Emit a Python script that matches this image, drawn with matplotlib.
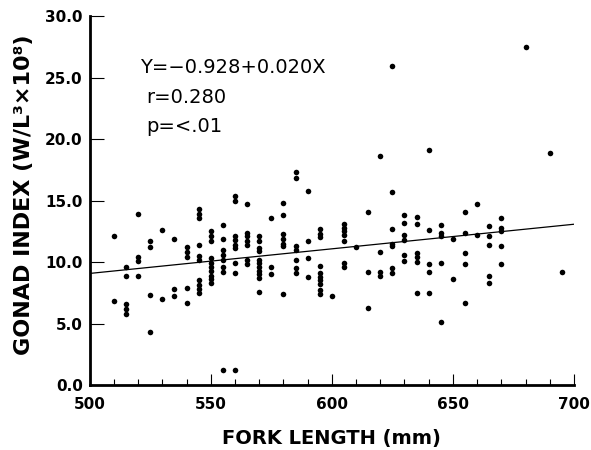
import matplotlib
matplotlib.use('Agg')
import matplotlib.pyplot as plt
import numpy as np

# fork length (mm) and gonad index
fork_length = (
    [510] * 2 + [515] * 5 + [520] * 4 + [525] * 4 + [530] * 2 + [535] * 3
    + [540] * 5 + [545] * 10 + [550] * 10 + [555] * 8 + [560] * 9
    + [565] * 7 + [570] * 11 + [575] * 3 + [580] * 7 + [585] * 7
    + [590] * 4 + [595] * 10 + [600] * 1 + [605] * 7 + [610] * 1
    + [615] * 3 + [620] * 4 + [625] * 7 + [630] * 6 + [635] * 6
    + [640] * 5 + [645] * 5 + [650] * 2 + [655] * 5 + [660] * 2
    + [665] * 5 + [670] * 5 + [680] * 1 + [690] * 1 + [695] * 1
)
gonad_index = [
    12.1, 6.8,                                   # 510
    9.6, 8.9, 6.6, 6.2, 5.8,                     # 515
    13.9, 10.4, 10.1, 8.9,                       # 520
    11.7, 11.2, 7.3, 4.3,                        # 525
    12.6, 7.0,                                   # 530
    11.9, 7.8, 7.2,                              # 535
    11.2, 10.8, 10.4, 7.9, 6.7,                  # 540
    14.3, 13.9, 13.6, 11.4, 10.5, 10.2, 8.5, 8.1, 7.8, 7.5,   # 545
    12.5, 12.1, 11.7, 10.3, 9.9, 9.6, 9.3, 8.9, 8.6, 8.3,     # 550
    13.0, 11.9, 11.0, 10.6, 10.2, 9.6, 9.2, 1.2,              # 555
    15.4, 15.0, 12.1, 11.8, 11.4, 11.1, 9.9, 9.1, 1.2,        # 560
    14.7, 12.4, 12.1, 11.7, 11.4, 10.2, 9.8,                  # 565
    12.1, 11.7, 11.1, 10.9, 10.2, 9.9, 9.6, 9.3, 9.0, 8.7, 7.6,  # 570
    13.6, 9.6, 9.0,                              # 575
    14.8, 13.8, 12.3, 11.9, 11.5, 11.3, 7.4,     # 580
    17.3, 16.8, 11.3, 11.0, 10.2, 9.5, 9.1,      # 585
    15.8, 11.7, 10.3, 8.8,                       # 590
    12.7, 12.3, 12.0, 9.7, 9.1, 8.8, 8.5, 8.2, 7.7, 7.4,      # 595
    7.2,                                         # 600
    13.1, 12.8, 12.5, 12.2, 11.7, 9.9, 9.6,      # 605
    11.2,                                        # 610
    14.1, 9.2, 6.3,                              # 615
    18.6, 10.8, 9.2, 8.9,                        # 620
    25.9, 15.7, 12.7, 11.5, 11.3, 9.5, 9.1,      # 625
    13.8, 13.2, 12.2, 11.8, 10.6, 10.1,          # 630
    13.7, 13.1, 10.7, 10.4, 10.0, 7.5,           # 635
    19.1, 12.6, 9.8, 9.2, 7.5,                   # 640
    13.0, 12.4, 12.1, 9.9, 5.1,                  # 645
    11.9, 8.6,                                   # 650
    14.1, 12.4, 10.7, 9.8, 6.7,                  # 655
    14.7, 12.2,                                  # 660
    12.9, 12.1, 11.4, 8.9, 8.3,                  # 665
    13.6, 12.8, 12.5, 11.3, 9.8,                 # 670
    27.5,                                        # 680
    18.9,                                        # 690
    9.2,                                         # 695
]
intercept = -0.928
slope = 0.020
x_ticks = [500, 550, 600, 650, 700]
y_ticks = [0, 5, 10, 15, 20, 25, 30]

fig = plt.figure(figsize=(5.91, 4.5), dpi=100)
ax = fig.add_axes([0.1518, 0.1444, 0.8194, 0.82])

ax.scatter(fork_length, gonad_index, s=16, c='black', linewidths=0, zorder=3)
line_x = np.array([500, 700])
ax.plot(line_x, intercept + slope * line_x, color='black', linewidth=0.9)

ax.set_xlim(500, 700)
ax.set_ylim(0, 30)
ax.set_xticks(x_ticks)
ax.set_xticks(np.arange(500, 701, 10), minor=True)
ax.set_yticks(y_ticks)
ax.set_yticklabels(['%.1f' % v for v in y_ticks])

for side in ['top', 'right']:
    ax.spines[side].set_visible(False)
for side in ['left', 'bottom']:
    ax.spines[side].set_linewidth(2.0)

ax.tick_params(axis='x', which='major', direction='in', length=8, width=0.8, pad=8.5)
ax.tick_params(axis='x', which='minor', direction='in', length=4, width=0.8)
ax.tick_params(axis='y', which='major', direction='in', length=10, width=0.8, pad=5)
for lab in ax.get_xticklabels() + ax.get_yticklabels():
    lab.set_fontfamily('DejaVu Sans')
    lab.set_fontweight('bold')
    lab.set_fontsize(11)

ax.set_xlabel('FORK LENGTH (mm)', fontsize=14, fontweight='bold')
ax.xaxis.set_label_coords(0.499, -0.1436)
ax.set_ylabel('GONAD INDEX (W/L³×10⁸)', fontsize=16, fontweight='bold')
ax.yaxis.set_label_coords(-0.1357, 0.515)
ax.xaxis.label.set_va('center')
ax.yaxis.label.set_va('center')

ax.text(520.8, 25.4, 'Y=\u22120.928+0.020X', fontsize=14, va='baseline')
ax.text(523.5, 22.95, 'r=0.280', fontsize=14, va='baseline')
ax.text(523.5, 20.6, 'p=<.01', fontsize=14, va='baseline')

fig.savefig('out.png', dpi=100)
